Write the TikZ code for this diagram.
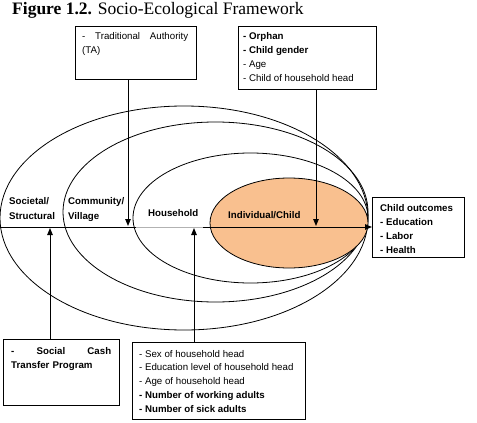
\documentclass[tikz,border=0pt]{standalone}
\usepackage{fontspec}
\setmainfont{Liberation Sans}
\newfontfamily\titlefont{Liberation Serif}
\usetikzlibrary{arrows.meta}
\definecolor{peach}{HTML}{F9C08F}
\newcommand\jf{\hskip 0pt plus 1filll\relax}
\begin{document}
\begin{tikzpicture}[x=1pt,y=-1pt,
  box/.style={draw, line width=0.8pt, inner sep=0pt, anchor=north west},
  txt/.style={anchor=north west, inner sep=0pt, font=\fontsize{9.7}{13.9}\selectfont, align=left},
  lbl/.style={anchor=north west, inner sep=0pt, font=\fontsize{9.7}{15}\selectfont\bfseries, align=left},
  arr/.style={line width=0.9pt, -{Triangle[length=7pt,width=5.5pt]}},
  ell/.style={line width=0.8pt}]
\useasboundingbox (0,0) rectangle (477,423);
% title
\node[anchor=base west, inner sep=0pt, font=\titlefont\fontsize{17.5}{20}\selectfont] (title) at (12,14) {\textbf{Figure 1.2.} Socio-Ecological Framework};
% ellipses
\draw[ell] (184,218) ellipse [x radius=184pt, y radius=112pt];
\draw[ell] (215.5,212) ellipse [x radius=152.5pt, y radius=90pt];
\draw[ell] (250.5,218) ellipse [x radius=117.5pt, y radius=65pt];
\draw[ell, fill=peach] (289,223) ellipse [x radius=79pt, y radius=45pt];
% boxes
\node[box, minimum width=121pt, minimum height=53pt] (ta) at (75,26) {};
\node[txt, text width=106pt] (tatxt) at (82,{39.5-9.73}) {\strut-\jf Traditional\jf Authority\\(TA)};
\node[box, minimum width=138pt, minimum height=63pt] (orph) at (238,26) {};
\node[txt] (orphtxt) at (243,{39.5-9.73}) {\strut\textbf{- Orphan}\\\textbf{- Child gender}\\- Age\\- Child of household head};
\node[box, minimum width=116pt, minimum height=66pt] (sc) at (3,339) {};
\node[txt, text width=100pt, font=\fontsize{9.7}{13.9}\selectfont\bfseries] (sctxt) at (11,{354.5-9.73}) {\strut-\jf Social\jf Cash\\Transfer Program};
\node[box, minimum width=173pt, minimum height=77pt] (hh) at (132,342) {};
\node[txt] (hhtxt) at (139,{356.8-9.73}) {\strut- Sex of household head\\- Education level of household head\\- Age of household head\\\textbf{- Number of working adults}\\\textbf{- Number of sick adults}};
\node[box, minimum width=92pt, minimum height=60pt] (co) at (372,197) {};
\node[txt, font=\fontsize{9.7}{13.9}\selectfont\bfseries] (cotxt) at (380,{211.5-9.73}) {\strut Child outcomes\\- Education\\- Labor\\- Health};
% labels
\node[lbl] (soc) at (9,194) {\strut Societal/\\Structural};
\node[lbl] (com) at (68,194) {\strut Community/\\Village};
\node[lbl] (hhl) at (148,206) {\strut Household};
\node[lbl] (ind) at (228,208) {\strut Individual/Child};
% axis and arrows
\coordinate (axL) at (0,227);
\draw[arr] (axL) -- (co.west |- axL);
\coordinate (g1) at (136,227);
\coordinate (g2) at (203,227);
\draw[gray!60, line width=0.9pt] (g1) -- (g2);
\coordinate (taP) at (128,226);
\draw[arr] (ta.south -| taP) -- (taP);
\coordinate (orP) at (316,226);
\draw[arr] (orph.south -| orP) -- (orP);
\coordinate (scP) at (50,228);
\draw[arr] (sc.north -| scP) -- (scP);
\coordinate (hhP) at (194,228);
\draw[arr] (hh.north -| hhP) -- (hhP);
\end{tikzpicture}
\end{document}
